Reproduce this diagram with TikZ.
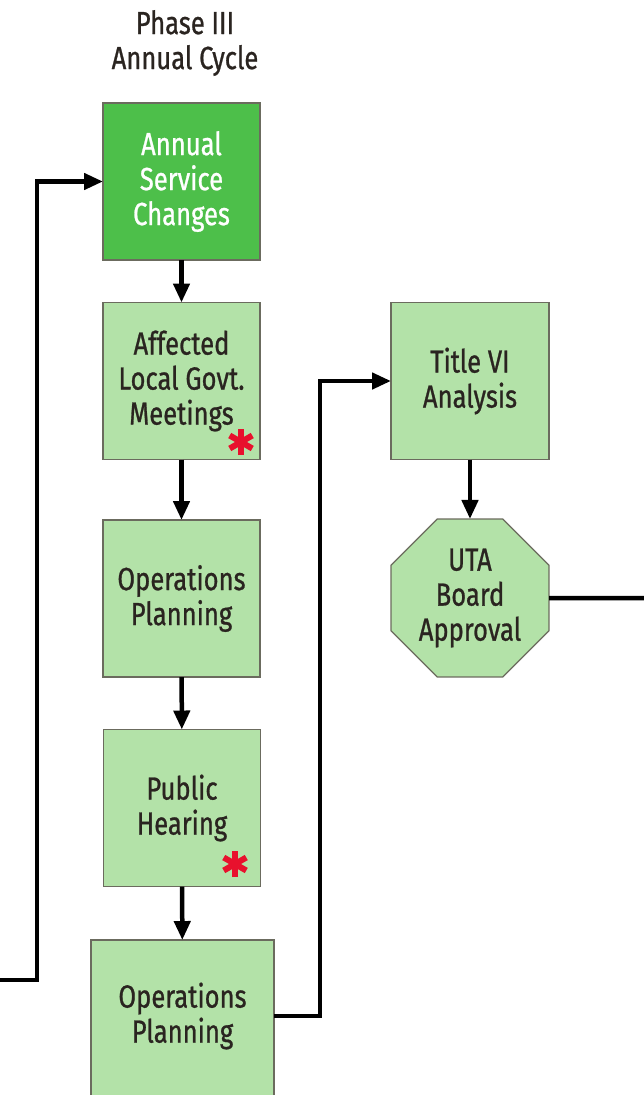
\documentclass[tikz,border=0pt]{standalone}
\usepackage{fontspec}
\setmainfont{Fira Sans}[FakeStretch=0.8,FakeBold=0.8]
\usetikzlibrary{shapes.geometric,arrows.meta,calc}
\definecolor{lightg}{HTML}{B3E2A8}
\definecolor{darkg}{HTML}{4DBF4A}
\definecolor{edgeg}{HTML}{6B6B5E}
\definecolor{ink}{HTML}{2A2420}
\definecolor{starred}{HTML}{E8112D}
\tikzset{
  stepbox/.style={draw=edgeg,line width=1.2pt,fill=lightg,minimum width=157pt,minimum height=157pt,inner sep=0pt,outer sep=0pt,text=ink,align=center,font=\fontsize{32}{35}\selectfont},
  octbox/.style={stepbox,regular polygon,regular polygon sides=8,minimum size=171pt},
  txt/.style={text=ink,align=center,font=\fontsize{32}{35}\selectfont,inner sep=0pt},
  flow/.style={line width=4.5pt,-{Triangle[length=19pt,width=16pt]}},
  plain/.style={line width=4.5pt},
  asterisk/.style={starred,line width=6pt}
}
\begin{document}
\begin{tikzpicture}[x=1pt,y=-1pt]
\useasboundingbox (0,0) rectangle (644,1095);
\clip (0,0) rectangle (644,1095);
\node[txt] (title) at (185,43) {Phase III\\Annual Cycle};
\node[stepbox,fill=darkg,text=white] (b1) at (181.5,181.5) {Annual\\Service\\Changes};
\node[stepbox] (b2) at (181.5,381) {Affected\\Local Govt.\\Meetings};
\node[stepbox] (b3) at (181.5,598.5) {Operations\\Planning};
\node[stepbox] (b4) at (182,808) {Public\\Hearing};
\node[stepbox,minimum width=183pt,minimum height=183pt] (b5) at (182.5,1031.5) {};
\node[txt] (b5t) at (182.5,1016) {Operations\\Planning};
\node[stepbox,minimum width=158pt] (t6) at (470,381) {Title VI\\Analysis};
\node[octbox] (oct) at (470,598) {UTA\\Board\\Approval};
% asterisks
\foreach \sx/\sy in {241/442,235/864}{
  \begin{scope}[shift={(\sx,\sy)}]
    \foreach \a in {90,30,150}{\draw[asterisk] (\a:13) -- (\a+180:13);}
  \end{scope}
}
\coordinate (L0) at (0,980);
\coordinate (R0) at (644,598);
\draw[flow] (b1) -- (b2);
\draw[flow] (b2) -- (b3);
\draw[flow] (b3) -- (b4);
\draw[flow] (b4) -- (b5);
\draw[flow] (L0) -- ++(37,0) |- (b1.west);
\draw[flow] (b5t -| b5.east) -- ++(46,0) |- (t6.west);
\draw[flow] (t6) -- (oct);
\draw[plain] (oct.east) -- (R0);
\end{tikzpicture}
\end{document}
